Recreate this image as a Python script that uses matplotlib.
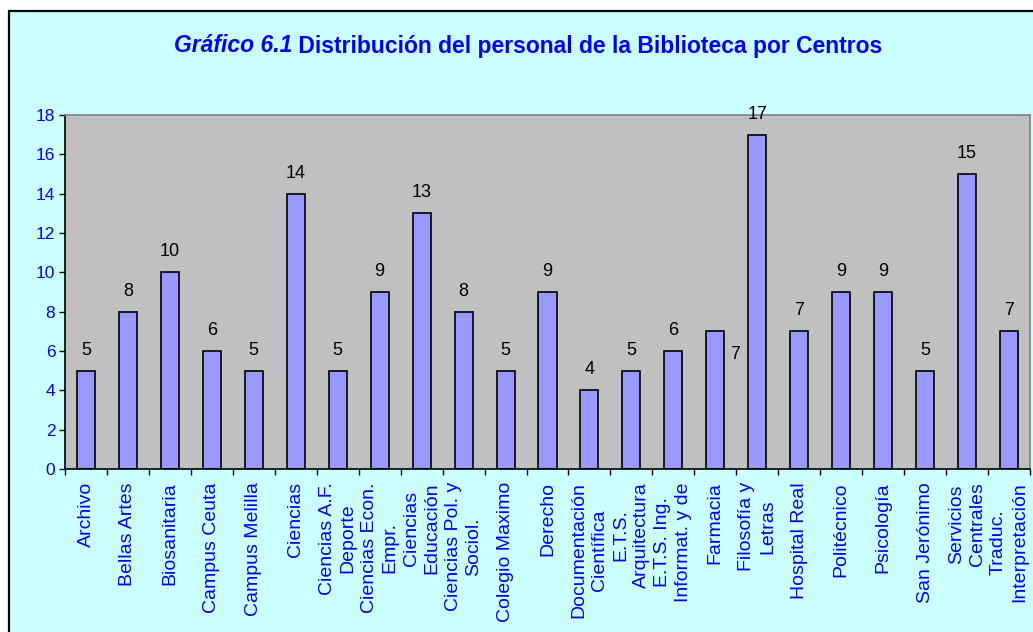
import matplotlib
matplotlib.use("Agg")
import matplotlib.pyplot as plt
from matplotlib.patches import Rectangle
import numpy as np

categories = ["Archivo", "Bellas Artes", "Biosanitaria", "Campus Ceuta", "Campus Melilla",
              "Ciencias", "Ciencias A.F.\nDeporte", "Ciencias Econ.\nEmpr.", "Ciencias\nEducación",
              "Ciencias Pol. y\nSociol.", "Colegio Maximo", "Derecho", "Documentación\nCientífica",
              "E.T.S.\nArquitectura", "E.T.S. Ing.\nInformat. y de", "Farmacia", "Filosofía y\nLetras",
              "Hospital Real", "Politécnico", "Psicología", "San Jerónimo", "Servicios\nCentrales",
              "Traduc.\nInterpretación"]
values = [5, 8, 10, 6, 5, 14, 5, 9, 13, 8, 5, 9, 4, 5, 6, 7, 17, 7, 9, 9, 5, 15, 7]
yticks = list(range(0, 19, 2))

plt.rcParams['font.family'] = ['Liberation Sans', 'DejaVu Sans']

W, H = 1033, 632
fig = plt.figure(figsize=(W / 100, H / 100), dpi=100)
fig.patch.set_facecolor('white')

# outer cyan chart area with black border (cropped at right/bottom)
fig.patches.append(Rectangle((8.5 / W, -0.1), 1.2, 1.1 - 10.5 / H,
                             transform=fig.transFigure, facecolor='#CCFFFF',
                             edgecolor='black', linewidth=1.6, zorder=-5))

left, right, top, bottom = 65, 1030, 115, 469
ax = fig.add_axes([left / W, 1 - bottom / H, (right - left) / W, (bottom - top) / H])
ax.set_zorder(1)
ax.set_facecolor('#C0C0C0')

x = np.arange(len(categories))
ax.bar(x, values, width=0.43, color='#9999FF', edgecolor='black', linewidth=1.2, zorder=2)

ax.set_xlim(-0.5, len(categories) - 0.5)
ax.set_ylim(0, 18)
ax.set_yticks(yticks)
ax.tick_params(axis='y', colors='black', labelcolor='#0000FF', labelsize=12.5,
               direction='out', length=4, width=1, pad=3)

ax.set_xticks(x)
ax.set_xticklabels(categories, rotation=90, color='#0000FF', fontsize=14,
                   multialignment='center', linespacing=1.3)
ax.tick_params(axis='x', length=0, pad=9.5)
ax.set_xticks(np.arange(-0.5, len(categories), 1), minor=True)
ax.tick_params(axis='x', which='minor', direction='out', length=4, width=1, color='black')

for s in ['left', 'bottom']:
    ax.spines[s].set_color('black')
    ax.spines[s].set_linewidth(1.2)
for s in ['top', 'right']:
    ax.spines[s].set_color('#808080')
    ax.spines[s].set_linewidth(1.2)

for i, v in enumerate(values):
    if i == 15:
        ax.annotate(str(v), (i, v), xytext=(14.4, -20), textcoords='offset points',
                    ha='center', va='baseline', fontsize=13, color='black', annotation_clip=False)
    else:
        ax.annotate(str(v), (i, v), xytext=(0, 11.5), textcoords='offset points',
                    ha='center', va='baseline', fontsize=13, color='black', annotation_clip=False)

t1 = fig.text(0, 0, "Gráfico 6.1", fontsize=16.5, fontweight='bold', fontstyle='italic',
              color='#0000FF', va='center')
t2 = fig.text(0, 0, " Distribución del personal de la Biblioteca por Centros", fontsize=16.5,
              fontweight='bold', color='#0000FF', va='center')
fig.canvas.draw()
r = fig.canvas.get_renderer()
w1 = t1.get_window_extent(r).width
w2 = t2.get_window_extent(r).width
cx = 528
x0 = cx - (w1 + w2) / 2
t1.set_position((x0 / W, 1 - 46 / H))
t2.set_position(((x0 + w1) / W, 1 - 46 / H))

fig.savefig("out.png", dpi=100, facecolor=fig.get_facecolor())
